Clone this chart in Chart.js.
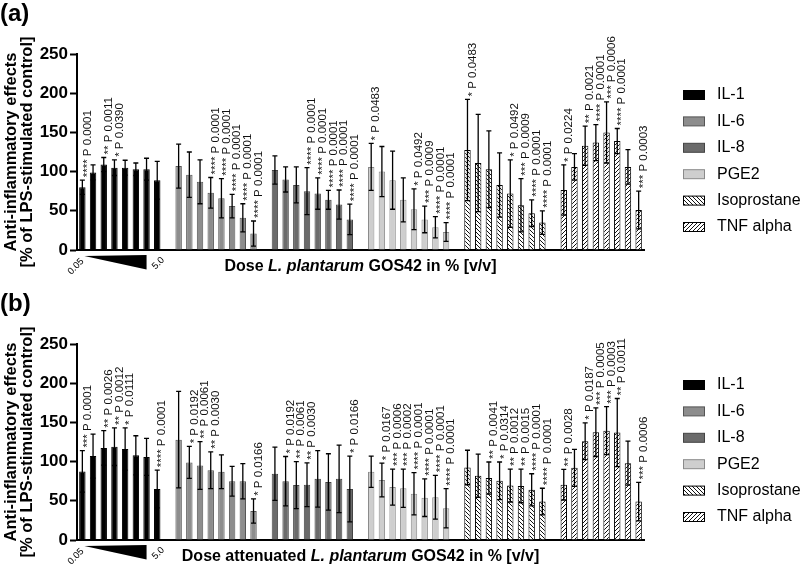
<!DOCTYPE html>
<html>
<head>
<meta charset="utf-8">
<script src="https://cdn.jsdelivr.net/npm/chart.js@4.4.1/dist/chart.umd.min.js"></script>
<style>
  body { margin: 0; background: #fff; width: 800px; height: 565px; overflow: hidden; position: relative; }
  canvas { position: absolute; left: 0; }
  #chartA { top: 0; }
  #chartB { top: 290px; }
</style>
</head>
<body>
<canvas id="chartA" width="800" height="285"></canvas>
<canvas id="chartB" width="800" height="275"></canvas>
<script>
const series = ['IL-1', 'IL-6', 'IL-8', 'PGE2', 'Isoprostane', 'TNF alpha'];
const yTicks = [0, 50, 100, 150, 200, 250];
const doseEnds = ['0.05', '5.0'];

// panel (a): L. plantarum GOS42
const aIL1 = [80, 99, 109, 105, 105, 103, 103, 89];
const aIL1Sd = [9, 9.5, 9, 10, 9.5, 8, 14, 24];
const aIL1P = ['**** P 0.0001', '', '** P 0.0011', '* P 0.0390', '', '', '', ''];
const aIL6 = [107, 96, 87, 73, 66, 56, 41, 21];
const aIL6Sd = [28, 29, 28, 19.5, 25, 15, 18, 16];
const aIL6P = ['', '', '', '**** P 0.0001', '**** P 0.0001', '**** P 0.0001', '**** P 0.0001', '**** P 0.0001'];
const aIL8 = [102, 90, 83, 75, 72, 64, 58, 39];
const aIL8Sd = [18, 16, 23, 30, 20, 12, 18.5, 19.5];
const aIL8P = ['', '', '', '**** P 0.0001', '**** P 0.0001', '**** P 0.0001', '**** P 0.0001', '**** P 0.0001'];
const aPGE2 = [106, 100, 89, 64, 52, 39, 29, 23];
const aPGE2Sd = [30, 32, 37, 28, 26, 17, 13.5, 12];
const aPGE2P = ['* P 0.0483', '', '', '', '* P 0.0492', '*** P 0.0009', '**** P 0.0001', '**** P 0.0001'];
const aIso = [127.5, 111, 103, 83, 72, 57, 47, 35];
const aIsoSd = [64.5, 62, 49, 41, 43, 34, 17, 15];
const aIsoP = ['* P 0.0483', '', '', '', '* P 0.0492', '*** P 0.0009', '**** P 0.0001', '**** P 0.0001'];
const aTnf = [76.5, 106, 133, 137, 150, 139, 106, 51];
const aTnfSd = [32, 17, 25, 23, 39, 16, 22, 24];
const aTnfP = ['* P 0.0224', '', '** P 0.0021', '**** P 0.0001', '*** P 0.0006', '**** P 0.0001', '', '*** P 0.0003'];

// panel (b): attenuated L. plantarum GOS42
const bIL1 = [87.5, 107, 117.5, 119, 116, 108, 106, 65];
const bIL1Sd = [26.5, 28, 22, 24, 27, 25, 23.5, 24];
const bIL1P = ['*** P 0.0001', '', '** P 0.0026', '** P 0.0012', '* P 0.0111', '', '', '**** P 0.0001'];
const bIL6 = [128, 99, 95, 89, 87, 75, 75, 37];
const bIL6Sd = [61.5, 20.5, 30.5, 23.5, 21.5, 19, 22.5, 15.5];
const bIL6P = ['', '* P 0.0192', '** P 0.0061', '** P 0.0030', '', '', '', '* P 0.0166'];
const bIL8 = [84.5, 75, 70, 70.5, 78, 74, 78, 65];
const bIL8Sd = [34, 31.5, 30, 28, 36, 36, 43, 42];
const bIL8P = ['', '* P 0.0192', '** P 0.0061', '** P 0.0030', '', '', '', '* P 0.0166'];
const bPGE2 = [87, 76.5, 67.5, 66, 59, 54, 54.5, 40.5];
const bPGE2Sd = [20, 21.5, 23, 24.5, 27, 24, 28, 25];
const bPGE2P = ['', '* P 0.0167', '*** P 0.0006', '*** P 0.0002', '**** P 0.0001', '**** P 0.0001', '**** P 0.0001', '**** P 0.0001'];
const bIso = [92.5, 82, 79, 75.5, 69.5, 69, 64, 49];
const bIsoSd = [22, 27.5, 20.5, 24, 21, 21.5, 20.5, 17];
const bIsoP = ['', '', '** P 0.0041', '* P 0.0314', '** P 0.0012', '** P 0.0015', '**** P 0.0001', '**** P 0.0001'];
const bTnf = [70.5, 92, 126, 137.5, 139.5, 137, 98, 49];
const bTnfSd = [19.5, 23.5, 23.5, 31, 30.5, 43.5, 28, 24.5];
const bTnfP = ['** P 0.0028', '', '* P 0.0187', '*** P 0.0005', '*** P 0.0003', '** P 0.0011', '', '*** P 0.0006'];

const FONT = '"Liberation Sans", Arial, sans-serif';
const PER_GROUP = 8;
const STRIDE = 9; // 8 bars + one empty slot between groups
const nSlots = series.length * STRIDE - 1;

function hatch(back) {
  const c = document.createElement('canvas');
  c.width = 4; c.height = 4;
  const g = c.getContext('2d');
  g.fillStyle = '#fff';
  g.fillRect(0, 0, 4, 4);
  g.strokeStyle = '#111';
  g.lineWidth = 1;
  g.beginPath();
  if (back) {
    g.moveTo(-1, -1); g.lineTo(5, 5);
    g.moveTo(-1, 3); g.lineTo(1, 5);
    g.moveTo(3, -1); g.lineTo(5, 1);
  } else {
    g.moveTo(-1, 5); g.lineTo(5, -1);
    g.moveTo(-1, 1); g.lineTo(1, -1);
    g.moveTo(3, 5); g.lineTo(5, 3);
  }
  g.stroke();
  return g.createPattern(c, 'repeat');
}

const fills = ['#000000', '#8d8d8d', '#6b6b6b', '#cecece', hatch(true), hatch(false)];
const borders = ['#000000', '#555555', '#444444', '#8a8a8a', '#000000', '#000000'];

function makePanel(id, letter, dosePrefix, means, sds, ps) {
  const canvas = document.getElementById(id);
  const H = canvas.height;

  const datasets = series.map((name, g) => {
    const data = new Array(nSlots).fill(null);
    means[g].forEach((v, i) => { data[g * STRIDE + i] = v; });
    return {
      label: name,
      data: data,
      backgroundColor: fills[g],
      borderColor: borders[g],
      borderWidth: 1,
      grouped: false,
      barPercentage: 0.6,
      categoryPercentage: 1
    };
  });

  const decor = {
    id: 'decor',
    afterDatasetsDraw(chart) {
      const ctx = chart.ctx;
      const ys = chart.scales.y;
      ctx.save();
      series.forEach((name, g) => {
        const meta = chart.getDatasetMeta(g);
        means[g].forEach((m, i) => {
          const x = meta.data[g * STRIDE + i].x;
          const yT = ys.getPixelForValue(m + sds[g][i]);
          const yB = ys.getPixelForValue(Math.max(0, m - sds[g][i]));
          ctx.strokeStyle = '#000';
          ctx.lineWidth = 1.3;
          ctx.beginPath();
          ctx.moveTo(x, yT); ctx.lineTo(x, yB);
          ctx.moveTo(x - 2.5, yT); ctx.lineTo(x + 2.5, yT);
          ctx.moveTo(x - 2.5, yB); ctx.lineTo(x + 2.5, yB);
          ctx.stroke();
          const txt = ps[g][i];
          if (txt) {
            ctx.save();
            ctx.translate(x + 5, yT - 3);
            ctx.rotate(-Math.PI / 2);
            ctx.fillStyle = '#111';
            ctx.font = '11.5px ' + FONT;
            ctx.textAlign = 'left';
            ctx.textBaseline = 'middle';
            ctx.fillText(txt, 0, 0);
            ctx.restore();
          }
        });
      });
      ctx.restore();
    },
    afterDraw(chart) {
      const ctx = chart.ctx;
      const xs = chart.scales.x;
      const area = chart.chartArea;
      ctx.save();

      // panel letter
      ctx.fillStyle = '#000';
      ctx.font = 'bold 24px ' + FONT;
      ctx.textAlign = 'left';
      ctx.textBaseline = 'middle';
      ctx.fillText(letter, 0, 14);

      // legend
      series.forEach((name, g) => {
        const ry = 95 + g * 26.4;
        ctx.fillStyle = fills[g];
        ctx.fillRect(683, ry - 4.5, 21, 9);
        ctx.strokeStyle = borders[g];
        ctx.lineWidth = 1;
        ctx.strokeRect(683.5, ry - 4.5, 21, 9);
        ctx.fillStyle = '#000';
        ctx.font = '16px ' + FONT;
        ctx.textBaseline = 'middle';
        ctx.fillText(name, 717, ry);
      });

      // dose wedge under the first group
      const tipX = xs.getPixelForValue(0) + 2;
      const endX = xs.getPixelForValue(PER_GROUP - 2);
      ctx.fillStyle = '#000';
      ctx.beginPath();
      ctx.moveTo(tipX, 256);
      ctx.lineTo(endX, 255);
      ctx.lineTo(endX, 269.5);
      ctx.closePath();
      ctx.fill();
      ctx.font = '9.5px ' + FONT;
      ctx.save();
      ctx.translate(tipX - 2, 260);
      ctx.rotate(-Math.PI / 4);
      ctx.textAlign = 'right';
      ctx.fillText(doseEnds[0], 0, 0);
      ctx.restore();
      ctx.save();
      ctx.translate(endX + 7, 268);
      ctx.rotate(-Math.PI / 4);
      ctx.textAlign = 'left';
      ctx.fillText(doseEnds[1], 0, 0);
      ctx.restore();

      // x axis title with italic species name
      const parts = [[dosePrefix, 'bold'], ['L. plantarum', 'italic bold'], [' GOS42 in % [v/v]', 'bold']];
      let total = 0;
      parts.forEach(p => { ctx.font = p[1] + ' 16px ' + FONT; total += ctx.measureText(p[0]).width; });
      let cx = (area.left + area.right) / 2 - total / 2;
      ctx.textAlign = 'left';
      ctx.textBaseline = 'middle';
      parts.forEach(p => {
        ctx.font = p[1] + ' 16px ' + FONT;
        ctx.fillText(p[0], cx, 267);
        cx += ctx.measureText(p[0]).width;
      });
      ctx.restore();
    }
  };

  return new Chart(canvas, {
    type: 'bar',
    data: { labels: new Array(nSlots).fill(''), datasets: datasets },
    options: {
      responsive: false,
      animation: false,
      layout: { padding: { top: 54, bottom: H - 250, left: 0, right: 156 } },
      plugins: { legend: { display: false }, tooltip: { enabled: false } },
      scales: {
        x: {
          offset: true,
          ticks: { display: false },
          grid: { display: false },
          border: { display: true, color: '#000', width: 2 },
          afterFit: s => { s.height = 0; }
        },
        y: {
          min: 0,
          max: 250,
          afterBuildTicks: s => { s.ticks = yTicks.map(v => ({ value: v })); },
          ticks: { color: '#000', padding: 2, font: { family: FONT, size: 17, weight: 'bold' } },
          grid: { drawOnChartArea: false, drawTicks: true, tickLength: 7, tickWidth: 2, tickColor: '#000' },
          border: { color: '#000', width: 2 },
          title: {
            display: true,
            text: ['Anti-inflammatory effects', '[% of LPS-stimulated control]'],
            color: '#000',
            font: { family: FONT, size: 16.5, weight: 'bold', lineHeight: 1.0 },
            padding: { top: 3, bottom: 0 }
          },
          afterFit: s => { s.width = 77; }
        }
      }
    },
    plugins: [decor]
  });
}

makePanel('chartA', '(a)', 'Dose ',
  [aIL1, aIL6, aIL8, aPGE2, aIso, aTnf],
  [aIL1Sd, aIL6Sd, aIL8Sd, aPGE2Sd, aIsoSd, aTnfSd],
  [aIL1P, aIL6P, aIL8P, aPGE2P, aIsoP, aTnfP]);

makePanel('chartB', '(b)', 'Dose attenuated ',
  [bIL1, bIL6, bIL8, bPGE2, bIso, bTnf],
  [bIL1Sd, bIL6Sd, bIL8Sd, bPGE2Sd, bIsoSd, bTnfSd],
  [bIL1P, bIL6P, bIL8P, bPGE2P, bIsoP, bTnfP]);
</script>
</body>
</html>
